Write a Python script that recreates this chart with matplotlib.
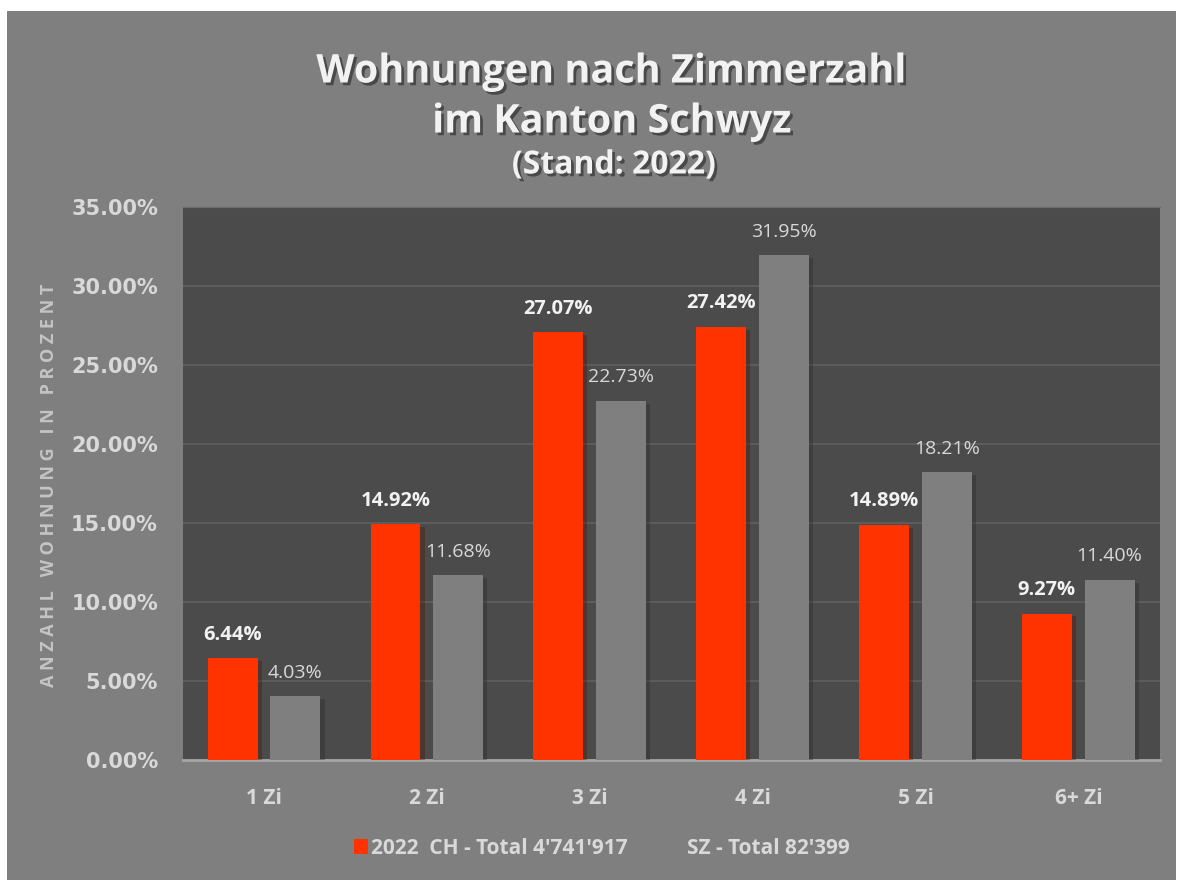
import matplotlib.pyplot as plt
import matplotlib.patheffects as pe
from matplotlib.patches import Rectangle, Patch
import numpy as np

kategorien = ['1 Zi', '2 Zi', '3 Zi', '4 Zi', '5 Zi', '6+ Zi']
ch_werte = [6.44, 14.92, 27.07, 27.42, 14.89, 9.27]   # CH - Total 4'741'917
sz_werte = [4.03, 11.68, 22.73, 31.95, 18.21, 11.40]  # SZ - Total 82'399
y_ticks = [0, 5, 10, 15, 20, 25, 30, 35]
legende = ["2022  CH - Total 4'741'917", "SZ - Total 82'399"]

rot = '#ff3300'
grau = '#7f7f7f'
hell = '#d9d9d9'

fig = plt.figure(figsize=(11.78, 8.8), dpi=100)
fig.patch.set_facecolor('white')
# grauer Hintergrund mit kleinem weissen Rand
fig.patches.append(Rectangle((7/1178, 0), 1169/1178, 869/880, transform=fig.transFigure,
                             facecolor=grau, edgecolor='none', zorder=-5))

ax = fig.add_axes([183/1178, 1-760/880, 977/1178, 553/880])
ax.set_facecolor('#4b4b4b')

x = np.arange(len(kategorien))
b = 0.307
schatten = [pe.SimplePatchShadow(offset=(3, -2), alpha=0.35), pe.Normal()]
bars1 = ax.bar(x - 0.195, ch_werte, b, color=rot, zorder=3, path_effects=schatten)
bars2 = ax.bar(x + 0.19, sz_werte, b, color=grau, zorder=3, path_effects=schatten)

for xi, v in zip(x, ch_werte):
    ax.annotate(f'{v:.2f}%', (xi - 0.195, v), xytext=(0, 17), textcoords='offset points',
                ha='center', va='center', color='#f2f2f2', fontsize=14.5,
                fontweight='bold', family='Open Sans')
for xi, v in zip(x, sz_werte):
    ax.annotate(f'{v:.2f}%', (xi + 0.19, v), xytext=(0, 17), textcoords='offset points',
                ha='center', va='center', color=hell, fontsize=14, family='Open Sans')

ax.set_xlim(-0.5, len(kategorien) - 0.5)
ax.set_ylim(0, 35)
ax.set_yticks(y_ticks)
ax.set_yticklabels([f'{t:.2f}%' for t in y_ticks], color=hell, fontsize=15,
                   fontweight='bold', family='DejaVu Sans')
ax.set_xticks(x)
ax.set_xticklabels(kategorien, color=hell, fontsize=15, fontweight='bold', family='Open Sans')
ax.tick_params(axis='both', length=0)
ax.tick_params(axis='y', pad=18)
ax.tick_params(axis='x', pad=20)
ax.grid(axis='y', color='#606060', linewidth=1.2, zorder=0)
ax.set_axisbelow(True)
for s in ['left', 'right']:
    ax.spines[s].set_visible(False)
ax.spines['top'].set_color('#6a6a6a')
ax.spines['bottom'].set_color('#a6a6a6')
ax.spines['bottom'].set_linewidth(2)

ax.set_ylabel('A N Z A H L   W O H N U N G   I N   P R O Z E N T', color='#c4c4c4',
              fontsize=13, fontweight='bold', family='Open Sans')
ax.yaxis.set_label_coords((58 - 183) / 977, (760 - 485) / 553)

schatten_text = [pe.withSimplePatchShadow(offset=(2, -2), shadow_rgbFace='#333333', alpha=0.7)]
fig.text(612/1178, 1-72/880, 'Wohnungen nach Zimmerzahl', ha='center', va='center',
         color='#f2f2f2', fontsize=28.5, fontweight='bold', family='Open Sans',
         path_effects=schatten_text)
fig.text(612/1178, 1-122/880, 'im Kanton Schwyz', ha='center', va='center',
         color='#f2f2f2', fontsize=28.5, fontweight='bold', family='Open Sans',
         path_effects=schatten_text)
fig.text(614/1178, 1-165/880, '(Stand: 2022)', ha='center', va='center',
         color='#f2f2f2', fontsize=23, fontweight='bold', family='Open Sans',
         path_effects=schatten_text)

handles = [Patch(facecolor=rot), Patch(facecolor=grau)]
leg = fig.legend(handles, legende,
                 loc='center', bbox_to_anchor=(602/1178, 1-848/880), ncol=2,
                 frameon=False, handlelength=0.7, handleheight=0.7, handletextpad=0.15,
                 columnspacing=2.0, prop={'family': 'Open Sans', 'weight': 'bold', 'size': 15})
for t in leg.get_texts():
    t.set_color(hell)

fig.savefig('out.png', dpi=100)
